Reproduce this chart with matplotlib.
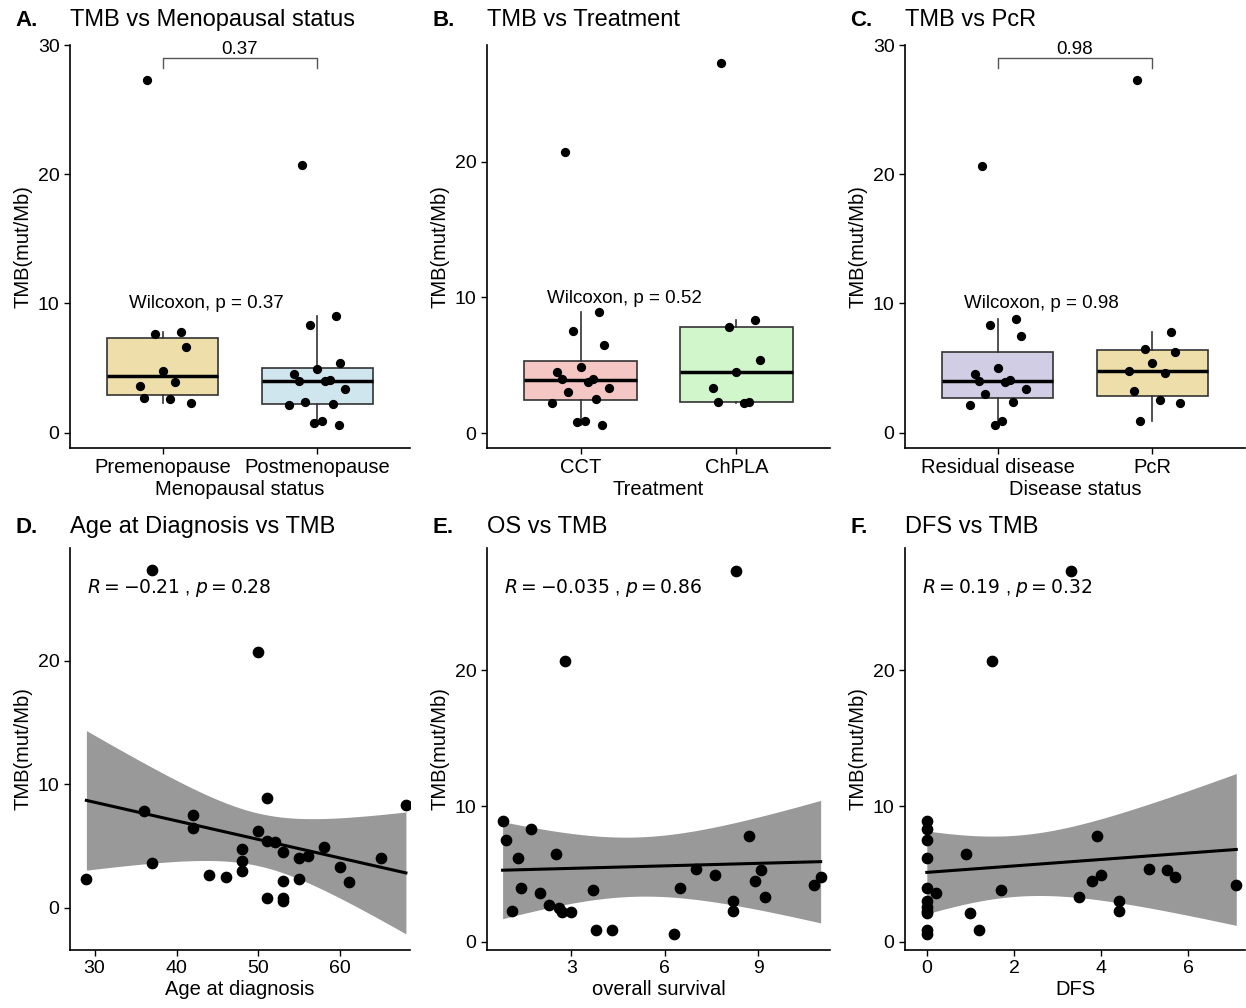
import numpy as np
import matplotlib
matplotlib.use("Agg")
import matplotlib.pyplot as plt

plt.rcParams['font.family'] = ['Liberation Sans', 'DejaVu Sans']

# ---- data ----
meno_cats = ["Premenopause", "Postmenopause"]
pre_tmb = [27.3, 7.8, 7.6, 6.6, 4.8, 3.6, 3.9, 2.7, 2.6, 2.3]
post_tmb = [20.7, 9.0, 8.3, 5.4, 4.9, 4.5, 4.1, 4.0, 4.0, 3.4, 2.4, 2.2, 2.1, 0.9, 0.7, 0.6]
treat_cats = ["CCT", "ChPLA"]
cct_tmb = [20.7, 8.9, 7.5, 6.5, 4.9, 4.5, 4.0, 4.0, 3.8, 3.3, 3.0, 2.5, 2.2, 0.9, 0.8, 0.6]
chpla_tmb = [27.3, 8.3, 7.8, 5.4, 4.5, 3.3, 2.3, 2.3, 2.2]
pcr_cats = ["Residual disease", "PcR"]
resid_tmb = [20.6, 8.8, 8.3, 7.5, 5.0, 4.5, 4.1, 4.0, 3.9, 3.4, 3.0, 2.4, 2.1, 0.9, 0.6]
pcr_tmb = [27.3, 7.8, 6.5, 6.2, 5.4, 4.8, 4.6, 3.2, 2.5, 2.3, 0.9]

age = [37, 50, 29, 36, 37, 42, 42, 44, 46, 48, 48, 48, 50, 51, 51, 51, 52, 53, 53, 53, 53, 55, 55, 56, 58, 60, 61, 65, 68]
age_tmb = [27.3, 20.7, 2.3, 7.8, 3.6, 7.5, 6.5, 2.7, 2.5, 4.8, 3.8, 3.0, 6.2, 8.9, 5.4, 0.8, 5.3, 4.5, 2.2, 0.8, 0.6, 4.0, 2.3, 4.2, 4.9, 3.3, 2.1, 4.0, 8.3]
os_ = [0.8, 0.9, 1.1, 1.3, 1.4, 1.7, 2.0, 2.3, 2.5, 2.6, 2.7, 2.8, 3.0, 3.7, 3.8, 4.3, 6.3, 6.5, 7.0, 7.6, 8.3, 8.7, 8.2, 8.2, 8.9, 9.2, 9.1, 10.8, 11.0]
os_tmb = [8.9, 7.5, 2.3, 6.2, 4.0, 8.3, 3.6, 2.7, 6.5, 2.5, 2.2, 20.7, 2.2, 3.8, 0.9, 0.9, 0.6, 4.0, 5.4, 4.9, 27.3, 7.8, 3.0, 2.3, 4.5, 3.3, 5.3, 4.2, 4.8]
dfs = [0, 0, 0, 0, 0, 0, 0, 0, 0, 0, 0, 0.2, 0.9, 1.0, 1.2, 1.5, 1.7, 3.3, 3.5, 3.8, 3.9, 4.0, 4.4, 4.4, 5.1, 5.5, 5.7, 7.1]
dfs_tmb = [8.9, 8.3, 7.5, 6.2, 4.0, 3.0, 2.6, 2.3, 2.1, 0.9, 0.6, 3.6, 6.5, 2.1, 0.9, 20.7, 3.8, 27.3, 3.3, 4.5, 7.8, 4.9, 3.0, 2.3, 5.4, 5.3, 4.8, 4.2]

jit = [-0.1, 0.12, -0.05, 0.15, 0.0, -0.15, 0.08, -0.12, 0.05, 0.18, -0.08, 0.1, -0.18, 0.03, -0.02, 0.14, -0.1]

W, H = 1246, 1008
fig = plt.figure(figsize=(W/100, H/100), dpi=100)

def ax_px(l, t, r, b):
    return fig.add_axes([l/W, 1-b/H, (r-l)/W, (b-t)/H])

def style(ax):
    for s in ['top', 'right']:
        ax.spines[s].set_visible(False)
    for s in ['left', 'bottom']:
        ax.spines[s].set_linewidth(1.2)
    ax.tick_params(labelsize=14, width=1.0, length=4, colors='black')

def heading(ax, title, letter, ty):
    ax.text(0.0, ty, title, transform=ax.transAxes, fontsize=17, ha='left', va='bottom')
    ax.text(-0.16, ty, letter, transform=ax.transAxes, fontsize=16, fontweight='bold', va='bottom')

def boxpanel(ax, groups, cats, colors, xlabel, title, letter, wtext, ylim, yticks, bracket=None):
    style(ax)
    bp = ax.boxplot(groups, positions=[1, 2], widths=0.72, patch_artist=True, showfliers=False,
                    medianprops=dict(color='black', linewidth=2.5),
                    boxprops=dict(linewidth=1.2, color='#333333'),
                    whiskerprops=dict(linewidth=1.2, color='#333333'), capprops=dict(linewidth=0))
    for p, c in zip(bp['boxes'], colors):
        p.set_facecolor(c)
    for i, g in enumerate(groups):
        ax.scatter([i+1+jit[k % len(jit)] for k in range(len(g))], g, s=32, color='black', zorder=3)
    ax.set_xlim(0.4, 2.6)
    ax.set_ylim(*ylim)
    ax.set_yticks(yticks)
    ax.set_xticks([1, 2])
    ax.set_xticklabels(cats, fontsize=14.5)
    ax.set_xlabel(xlabel, fontsize=14.5, labelpad=2)
    ax.set_ylabel("TMB(mut/Mb)", fontsize=14.5)
    ax.text(1.28, 9.3, wtext, ha='center', va='bottom', fontsize=13.5)
    if bracket is not None:
        ax.plot([1, 1, 2, 2], [28.2, 29.0, 29.0, 28.2], color='#555555', lw=1, clip_on=False)
        ax.text(1.5, 29.0, bracket, ha='center', va='bottom', fontsize=13.5)
    heading(ax, title, letter, 1.035)

def scatpanel(ax, x, y, xlabel, title, letter, rtext, ylim, xticks, xlim):
    style(ax)
    x = np.array(x, float); y = np.array(y, float)
    n = len(x)
    b, a = np.polyfit(x, y, 1)
    xs = np.linspace(x.min(), x.max(), 100)
    yh = a + b*xs
    res = y - (a + b*x)
    s = np.sqrt(np.sum(res**2)/(n-2))
    se = s*np.sqrt(1/n + (xs-x.mean())**2/np.sum((x-x.mean())**2))
    t = 2.05
    ax.fill_between(xs, yh-t*se, yh+t*se, color='#999999', lw=0, zorder=1)
    ax.plot(xs, yh, color='black', lw=2.2, zorder=2)
    ax.scatter(x, y, s=55, color='black', zorder=3)
    ax.set_ylim(*ylim)
    ax.set_xlim(*xlim)
    ax.set_yticks([0, 10, 20])
    ax.set_xticks(xticks)
    ax.set_xlabel(xlabel, fontsize=14.5, labelpad=2)
    ax.set_ylabel("TMB(mut/Mb)", fontsize=14.5)
    ax.text(0.05, 0.9, rtext, transform=ax.transAxes, fontsize=13.5, va='center')
    heading(ax, title, letter, 1.025)

axA = ax_px(70, 45, 410, 448)
boxpanel(axA, [pre_tmb, post_tmb], meno_cats, ['#EEDFAA', '#CFE6EF'], "Menopausal status",
         "TMB vs Menopausal status", "A.", "Wilcoxon, p = 0.37", (-1.2, 30), [0, 10, 20, 30], "0.37")
axB = ax_px(487, 45, 830, 448)
boxpanel(axB, [cct_tmb, chpla_tmb], treat_cats, ['#F4C7C4', '#D2F6CC'], "Treatment",
         "TMB vs Treatment", "B.", "Wilcoxon, p = 0.52", (-1.1, 28.6), [0, 10, 20])
axC = ax_px(905, 45, 1245, 448)
boxpanel(axC, [resid_tmb, pcr_tmb], pcr_cats, ['#D1CDE4', '#EEDFAA'], "Disease status",
         "TMB vs PcR", "C.", "Wilcoxon, p = 0.98", (-1.2, 30), [0, 10, 20, 30], "0.98")

axD = ax_px(70, 548, 410, 950)
scatpanel(axD, age, age_tmb, "Age at diagnosis", "Age at Diagnosis vs TMB", "D.",
          r"$R = -0.21$ , $p = 0.28$", (-3.4, 29.1), [30, 40, 50, 60], (27, 68.5))
axE = ax_px(487, 548, 830, 950)
scatpanel(axE, os_, os_tmb, "overall survival", "OS vs TMB", "E.",
          r"$R = -0.035$ , $p = 0.86$", (-0.6, 29.0), [3, 6, 9], (0.3, 11.3))
axF = ax_px(905, 548, 1245, 950)
scatpanel(axF, dfs, dfs_tmb, "DFS", "DFS vs TMB", "F.",
          r"$R = 0.19$ , $p = 0.32$", (-0.6, 29.0), [0, 2, 4, 6], (-0.5, 7.3))

fig.savefig("out.png", dpi=100)
